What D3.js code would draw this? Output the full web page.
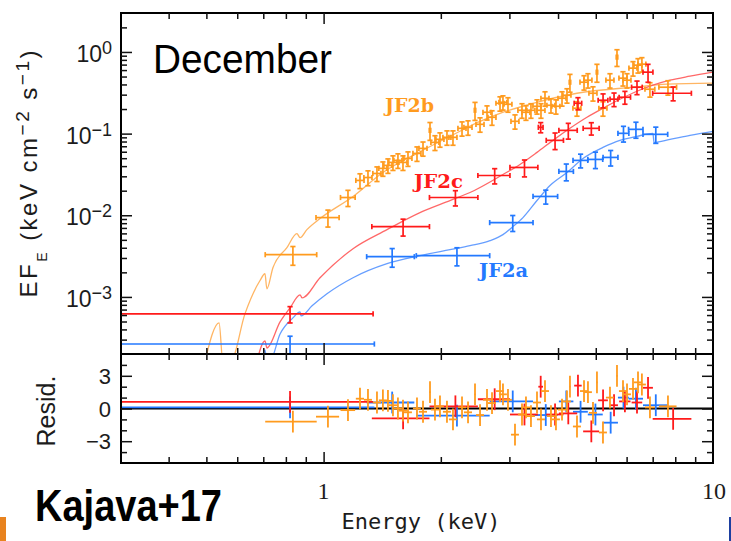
<!DOCTYPE html>
<html><head><meta charset="utf-8">
<script src="https://cdn.jsdelivr.net/npm/d3@7"></script>
<style>body{margin:0;background:#fff}svg{display:block}</style>
</head><body>
<svg id="c" width="731" height="541"></svg>
<script>
// ---------- spectra: JF2a (blue), JF2b (orange), JF2c (red) ----------
// energy centre (keV), half bin width (keV), EF_E, 1-sigma error, residual (sigma)
const jf2aE  = [0.82, 1.50, 2.20, 3.06, 3.72, 4.20, 4.57, 4.99, 5.46, 5.89, 6.34, 7.13];
const jf2aDE = [0.53, 0.21, 0.47, 0.39, 0.27, 0.18, 0.20, 0.22, 0.24, 0.19, 0.27, 0.52];
const jf2aF  = [2.65e-4, 3.11e-3, 3.2e-3, 8.13e-3, 0.0170, 0.0344, 0.0470, 0.0483, 0.0511, 0.1008, 0.1128, 0.098];
const jf2aDF = [0.65e-4, 0.8e-3, 0.8e-3, 1.8e-3, 0.0033, 0.008, 0.009, 0.011, 0.011, 0.022, 0.025, 0.022];
const jf2aRes = [0.1, 0.55, -0.65, 0.65, -0.6, 0.65, -0.3, -0.55, -1.3, 1.0, 0.9, 0.3];

const jf2cE  = [0.82, 1.60, 2.18, 2.75, 3.28, 3.61, 3.93, 4.25, 4.50, 4.87, 5.22, 5.57, 5.94, 6.38, 6.81, 7.90];
const jf2cDE = [0.52, 0.27, 0.31, 0.26, 0.27, 0.05, 0.20, 0.23, 0.10, 0.23, 0.15, 0.13, 0.20, 0.20, 0.20, 0.90];
const jf2cF  = [6.2e-4, 7.26e-3, 0.0165, 0.0307, 0.0385, 0.1194, 0.0827, 0.1096, 0.2353, 0.116, 0.2563, 0.264, 0.279, 0.37, 0.5655, 0.312];
const jf2cDF = [1.4e-4, 1.7e-3, 0.0035, 0.0065, 0.009, 0.017, 0.019, 0.024, 0.04, 0.02, 0.05, 0.05, 0.05, 0.07, 0.14, 0.06];
const jf2cRes = [0.6, -0.9, 0.2, 0.85, -0.55, 2.0, -0.55, -0.45, 2.1, -2.1, 0.75, 0.3, 0.65, 0.55, 1.9, -0.95];

const jf2bE  = [0.834,1.026,1.155,1.240,1.300,1.371,1.420,1.463,1.507,1.552,1.599,1.647,1.737,1.800,1.876,1.932,1.990,2.074,2.149,2.267,2.349,2.448,2.522,2.628,2.707,2.838,2.888,2.975,3.101,3.232,3.309,3.408,3.532,3.616,3.703,3.836,3.951,4.095,4.217,4.292,4.474,4.664,4.774,4.918,5.035,5.217,5.438,5.668,5.873,6.014,6.231,6.418,6.568,6.888,7.662];
const jf2bDE = [0.126,0.07,0.05,0.03,0.031,0.033,0.034,0.035,0.036,0.037,0.038,0.039,0.041,0.043,0.008,0.046,0.047,0.049,0.051,0.054,0.056,0.01,0.06,0.062,0.064,0.067,0.068,0.07,0.073,0.077,0.078,0.081,0.084,0.086,0.088,0.091,0.094,0.097,0.1,0.018,0.106,0.11,0.113,0.117,0.02,0.124,0.129,0.025,0.139,0.142,0.148,0.152,0.156,0.2,0.4];
const jf2bF  = [3.29e-3,9.37e-3,0.0165,0.0267,0.029,0.0325,0.0375,0.0408,0.0444,0.047,0.0444,0.0497,0.0572,0.0659,0.1097,0.0781,0.0851,0.09,0.09,0.1161,0.1194,0.1931,0.13,0.1825,0.1584,0.2353,0.2421,0.2288,0.1415,0.1931,0.1825,0.1931,0.2163,0.1931,0.2711,0.2224,0.2163,0.2711,0.2951,0.4262,0.2044,0.4262,0.4511,0.3122,0.5655,0.2044,0.4511,0.8643,0.4774,0.4511,0.6332,0.6894,0.709,0.3497,0.37];
const jf2bDF = [0.85e-3,2.2e-3,0.0037,0.0055,0.006,0.0066,0.0075,0.0082,0.009,0.0095,0.009,0.01,0.0115,0.013,0.027,0.016,0.017,0.018,0.018,0.023,0.024,0.048,0.026,0.036,0.032,0.047,0.048,0.046,0.028,0.039,0.037,0.039,0.043,0.039,0.054,0.044,0.043,0.054,0.059,0.105,0.041,0.085,0.09,0.062,0.14,0.041,0.09,0.2,0.095,0.09,0.127,0.138,0.142,0.07,0.074];
const jf2bRes = [-1.2,-0.75,-0.15,0.9,0.8,0.55,0.75,0.7,0.3,0.0,-0.2,-0.35,0.0,-0.3,1.5,-0.1,0.2,-0.3,-1.0,0.1,-0.35,1.3,-0.6,0.8,0.5,1.6,1.3,0.8,-2.4,-0.55,0.1,-0.7,0.55,-1.0,1.6,-0.7,-1.0,-0.1,0.65,2.0,-1.65,1.6,1.5,-0.4,2.4,-2.2,1.0,3.0,1.6,1.3,1.8,2.4,2.2,0.1,0.2];

// ---------- folded model curves ----------
const jf2aModelE = [0.695,0.707,0.715,0.728,0.773,0.834,0.870,0.875,0.934,1.020,1.190,1.455,1.768,2.111,2.377,2.675,2.888,3.064,3.251,3.532,3.814,4.217,4.636,5.217,5.768,6.379,7.011,7.054,7.752,8.727,10];
const jf2aModelF = [1.64e-4,2.24e-4,1.64e-4,1.64e-4,3.52e-4,5.54e-4,6.57e-4,5.86e-4,7.78e-4,1.092e-3,1.717e-3,2.55e-3,3.198e-3,3.789e-3,4.243e-3,4.887e-3,5.791e-3,7.261e-3,9.37e-3,0.01515,0.02315,0.03344,0.04969,0.06782,0.08268,0.09256,0.1008,0.0781,0.08505,0.09521,0.1066];
const jf2cModelE = [0.674,0.707,0.715,0.773,0.820,0.870,0.880,0.979,1.190,1.455,1.768,2.111,2.377,2.888,3.194,3.532,3.882,4.292,4.746,5.217,5.768,6.379,7.011,7.752,8.727,10];
const jf2cModelF = [1.64e-4,2.89e-4,2.37e-4,4.95e-4,7.35e-4,1.061e-3,9.75e-4,1.717e-3,3.898e-3,6.671e-3,0.01079,0.01515,0.01899,0.0316,0.04194,0.05888,0.08268,0.1161,0.1584,0.2044,0.2635,0.3304,0.3915,0.4511,0.505,0.5655];
const jf2bModelE = [0.496,0.539,0.551,0.578,0.628,0.686,0.707,0.715,0.741,0.805,0.854,0.870,0.906,0.979,1.190,1.420,1.737,2.111,2.522,2.838,3.450,4.474,6.231,7.616,10];
const jf2bModelF = [1.64e-4,4.81e-4,1.64e-4,1.64e-4,6.2e-4,1.577e-3,1.922e-3,1.257e-3,2.278e-3,4.009e-3,5.958e-3,5.319e-3,6.671e-3,9.11e-3,0.01697,0.03344,0.05722,0.09256,0.1415,0.1774,0.2353,0.3122,0.37,0.4028,0.4143];

// ---------- axis labels ----------
const fluxTickLabels = [[1, "0"], [0.1, "\u22121"], [0.01, "\u22122"], [0.001, "\u22123"]];
const residTickLabels = [[3, "3"], [0, "0"], [-3, "\u22123"]];
const energyTickLabels = [[1, "1"], [10, "10"]];

// ---------- layout ----------
const L = 121, R = 713, T = 13, MB = 354, RB = 463;
const svg = d3.select("#c");
const x  = d3.scaleLog().domain([0.3, 10]).range([120, 713]);
const yM = d3.scaleLog().domain([2e-4, 3]).range([MB, T]);
const yR = d3.scaleLinear().domain([-5, 5]).range([RB, MB]);

const COL = {
  a: {data: "#2379ff", model: "#5593ff"},
  b: {data: "#ff9b1e", model: "#ffad52"},
  c: {data: "#ff1a1a", model: "#ff5858"}
};

const defs = svg.append("defs");
defs.append("clipPath").attr("id", "clipMain").append("rect")
  .attr("x", L).attr("y", T).attr("width", R - L).attr("height", MB - T);
defs.append("clipPath").attr("id", "clipRes").append("rect")
  .attr("x", L).attr("y", MB).attr("width", R - L).attr("height", RB - MB);

const main = svg.append("g").attr("clip-path", "url(#clipMain)");
const resid = svg.append("g").attr("clip-path", "url(#clipRes)");

// model curves
function drawModel(E, F, color) {
  const line = d3.line().x(i => x(E[i])).y(i => yM(F[i])).curve(d3.curveMonotoneX);
  main.append("path").attr("d", line(d3.range(E.length)))
    .attr("fill", "none").attr("stroke", color).attr("stroke-width", 1.3)
    .attr("stroke-opacity", 0.9);
}
drawModel(jf2bModelE, jf2bModelF, COL.b.model);
drawModel(jf2cModelE, jf2cModelF, COL.c.model);
drawModel(jf2aModelE, jf2aModelF, COL.a.model);

// data crosses with end caps
const CAP = 2.6;
function drawData(E, dE, F, dF, color) {
  const g = main.append("g").attr("stroke", color).attr("stroke-width", 1.7).attr("fill", "none");
  const pts = g.selectAll("g").data(d3.range(E.length)).join("g");
  const xl = i => x(E[i] - dE[i]), xr = i => x(E[i] + dE[i]), xc = i => x(E[i]);
  const yc = i => yM(F[i]), yt = i => yM(F[i] + dF[i]), yb = i => yM(Math.max(F[i] - dF[i], 1e-7));
  pts.append("line").attr("x1", xl).attr("x2", xr).attr("y1", yc).attr("y2", yc);
  pts.append("line").attr("x1", xc).attr("x2", xc).attr("y1", yb).attr("y2", yt);
  pts.append("line").attr("x1", xl).attr("x2", xl).attr("y1", i => yc(i) - CAP).attr("y2", i => yc(i) + CAP);
  pts.append("line").attr("x1", xr).attr("x2", xr).attr("y1", i => yc(i) - CAP).attr("y2", i => yc(i) + CAP);
  pts.append("line").attr("x1", i => xc(i) - CAP).attr("x2", i => xc(i) + CAP).attr("y1", yt).attr("y2", yt);
  pts.append("line").attr("x1", i => xc(i) - CAP).attr("x2", i => xc(i) + CAP).attr("y1", yb).attr("y2", yb);
}
drawData(jf2bE, jf2bDE, jf2bF, jf2bDF, COL.b.data);
drawData(jf2aE, jf2aDE, jf2aF, jf2aDF, COL.a.data);
drawData(jf2cE, jf2cDE, jf2cF, jf2cDF, COL.c.data);

// residual panel
resid.append("line").attr("x1", L).attr("x2", R).attr("y1", yR(0)).attr("y2", yR(0))
  .attr("stroke", "#000").attr("stroke-width", 1.8);
function drawResid(E, dE, Rv, color) {
  const g = resid.append("g").attr("stroke", color).attr("stroke-width", 1.8);
  const pts = g.selectAll("g").data(d3.range(E.length)).join("g");
  pts.append("line").attr("x1", i => x(E[i] - dE[i])).attr("x2", i => x(E[i] + dE[i]))
    .attr("y1", i => yR(Rv[i])).attr("y2", i => yR(Rv[i]));
  pts.append("line").attr("x1", i => x(E[i])).attr("x2", i => x(E[i]))
    .attr("y1", i => yR(Rv[i] - 1)).attr("y2", i => yR(Rv[i] + 1));
}
drawResid(jf2aE, jf2aDE, jf2aRes, COL.a.data);
drawResid(jf2cE, jf2cDE, jf2cRes, COL.c.data);
drawResid(jf2bE, jf2bDE, jf2bRes, COL.b.data);

// frames
[[T, MB], [MB, RB]].forEach(([y0, y1]) => {
  svg.append("rect").attr("x", L).attr("y", y0).attr("width", R - L).attr("height", y1 - y0)
    .attr("fill", "none").attr("stroke", "#000").attr("stroke-width", 2);
});

// inward ticks
const isDecade = v => Math.abs(Math.log10(v) - Math.round(Math.log10(v))) < 1e-6;
function ticks(axisFn, scale, values, len, tx, ty) {
  const g = svg.append("g").attr("transform", `translate(${tx},${ty})`)
    .call(axisFn(scale).tickValues(values).tickSize(-len).tickFormat(""));
  g.select(".domain").remove();
  g.selectAll("line").attr("stroke", "#111").attr("stroke-width", 1.5);
}
const xt = x.ticks().filter(v => v > 0.3 && v < 10);
const xMaj = xt.filter(isDecade), xMin = xt.filter(v => !isDecade(v));
const yt = yM.ticks().filter(v => v > 2e-4 && v < 3);
const yMaj = yt.filter(isDecade), yMin = yt.filter(v => !isDecade(v));
const rMaj = [-3, 0, 3], rMin = [-4, -2, -1, 1, 2, 4];
const MAJ = 11, MIN = 6;
[[T, d3.axisTop], [MB, d3.axisBottom], [MB, d3.axisTop], [RB, d3.axisBottom]].forEach(([yy, fn]) => {
  ticks(fn, x, xMaj, MAJ, 0, yy);
  ticks(fn, x, xMin, MIN, 0, yy);
});
[[L, d3.axisLeft], [R, d3.axisRight]].forEach(([xx, fn]) => {
  ticks(fn, yM, yMaj, MAJ, xx, 0);
  ticks(fn, yM, yMin, MIN, xx, 0);
  ticks(fn, yR, rMaj, MAJ, xx, 0);
  ticks(fn, yR, rMin, MIN, xx, 0);
});

// tick labels
const SANS = "'Liberation Sans', Arial, sans-serif";
const TXT = "#1c1c1c";
fluxTickLabels.forEach(([v, ex]) => {
  const t = svg.append("text").attr("x", 112).attr("y", yM(v) + 10)
    .attr("text-anchor", "end").attr("font-family", SANS).attr("font-size", 23).attr("fill", TXT);
  t.append("tspan").text("10");
  t.append("tspan").attr("dy", -8).attr("font-size", 18).text(ex);
});
residTickLabels.forEach(([v, s]) => {
  svg.append("text").attr("x", 111).attr("y", yR(v) + 8).attr("text-anchor", "end")
    .attr("font-family", SANS).attr("font-size", 22).attr("fill", TXT).text(s);
});
energyTickLabels.forEach(([v, s]) => {
  svg.append("text").attr("x", x(v) + (v === 10 ? 1 : 0)).attr("y", 499).attr("text-anchor", "middle")
    .attr("font-family", "'Liberation Serif', 'Times New Roman', serif").attr("font-size", 24)
    .attr("fill", TXT).text(s);
});

// axis titles
svg.append("text").attr("x", 421).attr("y", 529).attr("text-anchor", "middle")
  .attr("font-family", "'DejaVu Sans Mono', monospace").attr("font-size", 22).attr("fill", TXT)
  .text("Energy (keV)");

const ytl = svg.append("text").attr("transform", "translate(37,174) rotate(-90)")
  .attr("text-anchor", "middle").attr("font-family", SANS).attr("font-size", 24).attr("fill", TXT)
  .attr("textLength", 247).attr("lengthAdjust", "spacing");
ytl.append("tspan").text("EF");
ytl.append("tspan").attr("dy", 10).attr("font-size", 14).text("E");
ytl.append("tspan").attr("dy", -10).text(" (keV cm");
ytl.append("tspan").attr("dy", -8).attr("font-size", 19).text("\u22122");
ytl.append("tspan").attr("dy", 8).text(" s");
ytl.append("tspan").attr("dy", -8).attr("font-size", 19).text("\u22121");
ytl.append("tspan").attr("dy", 8).text(")");

svg.append("text").attr("transform", "translate(55,411) rotate(-90)").attr("text-anchor", "middle")
  .attr("font-family", SANS).attr("font-size", 25).attr("fill", TXT).text("Resid.");

// series labels
const SERIF_B = "'DejaVu Serif', serif";
[["JF2b", 385, 112, COL.b.data], ["JF2c", 414, 188, COL.c.data], ["JF2a", 479, 277, COL.a.data]]
  .forEach(([s, xx, yy, c]) => {
    svg.append("text").attr("x", xx).attr("y", yy).attr("font-family", SERIF_B)
      .attr("font-weight", "bold").attr("font-size", 18).attr("fill", c)
      .attr("textLength", 49).attr("lengthAdjust", "spacingAndGlyphs").text(s);
  });

// panel title and citation
svg.append("text").attr("x", 153).attr("y", 73).attr("font-family", SANS).attr("font-size", 41)
  .attr("fill", "#000").attr("textLength", 179).attr("lengthAdjust", "spacingAndGlyphs").text("December");
svg.append("text").attr("x", 35).attr("y", 521).attr("font-family", SANS).attr("font-weight", "bold")
  .attr("font-size", 45).attr("fill", "#000").attr("textLength", 187).attr("lengthAdjust", "spacingAndGlyphs")
  .text("Kajava+17");

// slide edge accents
svg.append("rect").attr("x", 0).attr("y", 517).attr("width", 6).attr("height", 24).attr("fill", "#e8831f");
svg.append("rect").attr("x", 729).attr("y", 517).attr("width", 2).attr("height", 24).attr("fill", "#1d3fa0");
</script>
</body></html>
